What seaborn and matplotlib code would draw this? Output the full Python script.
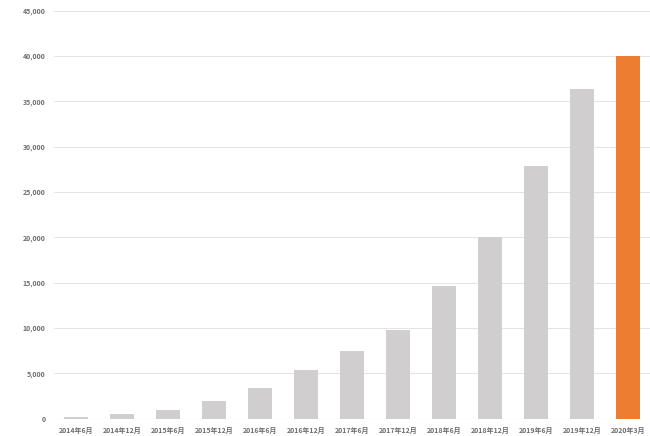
import pandas as pd
import numpy as np
import matplotlib.pyplot as plt
import seaborn as sns

#%% data
periods = ['2014年6月', '2014年12月', '2015年6月', '2015年12月', '2016年6月', '2016年12月',
           '2017年6月', '2017年12月', '2018年6月', '2018年12月', '2019年6月', '2019年12月',
           '2020年3月']
values = [200, 450, 900, 1900, 3350, 5400, 7500, 9750, 14600, 20000, 27900, 36400, 40000]
bar_colors = ['#D0CECE'] * 12 + ['#ED7D31']

df = pd.DataFrame({'period': periods, 'value': values})

#%% plot
sns.set_style('white')
plt.rcParams['font.family'] = ['Noto Sans CJK JP', 'DejaVu Sans']

fig = plt.figure(figsize=(6.5, 4.36), dpi=100)
ax = fig.add_axes([0.083, 0.04, 0.917, 0.935])

sns.barplot(data=df, x='period', y='value', hue='period', palette=bar_colors,
            saturation=1, legend=False, width=0.52, linewidth=0, ax=ax, zorder=3)

ax.set_ylim(0, 45000)
ax.set_xlim(-0.48, len(periods) - 0.52)
ax.set_yticks(np.arange(0, 45001, 5000))
ax.set_yticklabels([f'{v:,}' for v in range(0, 45001, 5000)])
ax.yaxis.grid(True, color='#E3E3E3', linewidth=0.7, zorder=0)
ax.set_axisbelow(True)
for s in ax.spines.values():
    s.set_visible(False)
ax.axhline(0, color='#D9D9D9', linewidth=0.8, zorder=1)
ax.tick_params(axis='both', length=0, labelsize=5, labelcolor='#6E6E6E', pad=6)
for lab in ax.get_xticklabels() + ax.get_yticklabels():
    lab.set_fontweight('bold')
ax.set_xlabel('')
ax.set_ylabel('')

plt.savefig('out.png', dpi=100)
